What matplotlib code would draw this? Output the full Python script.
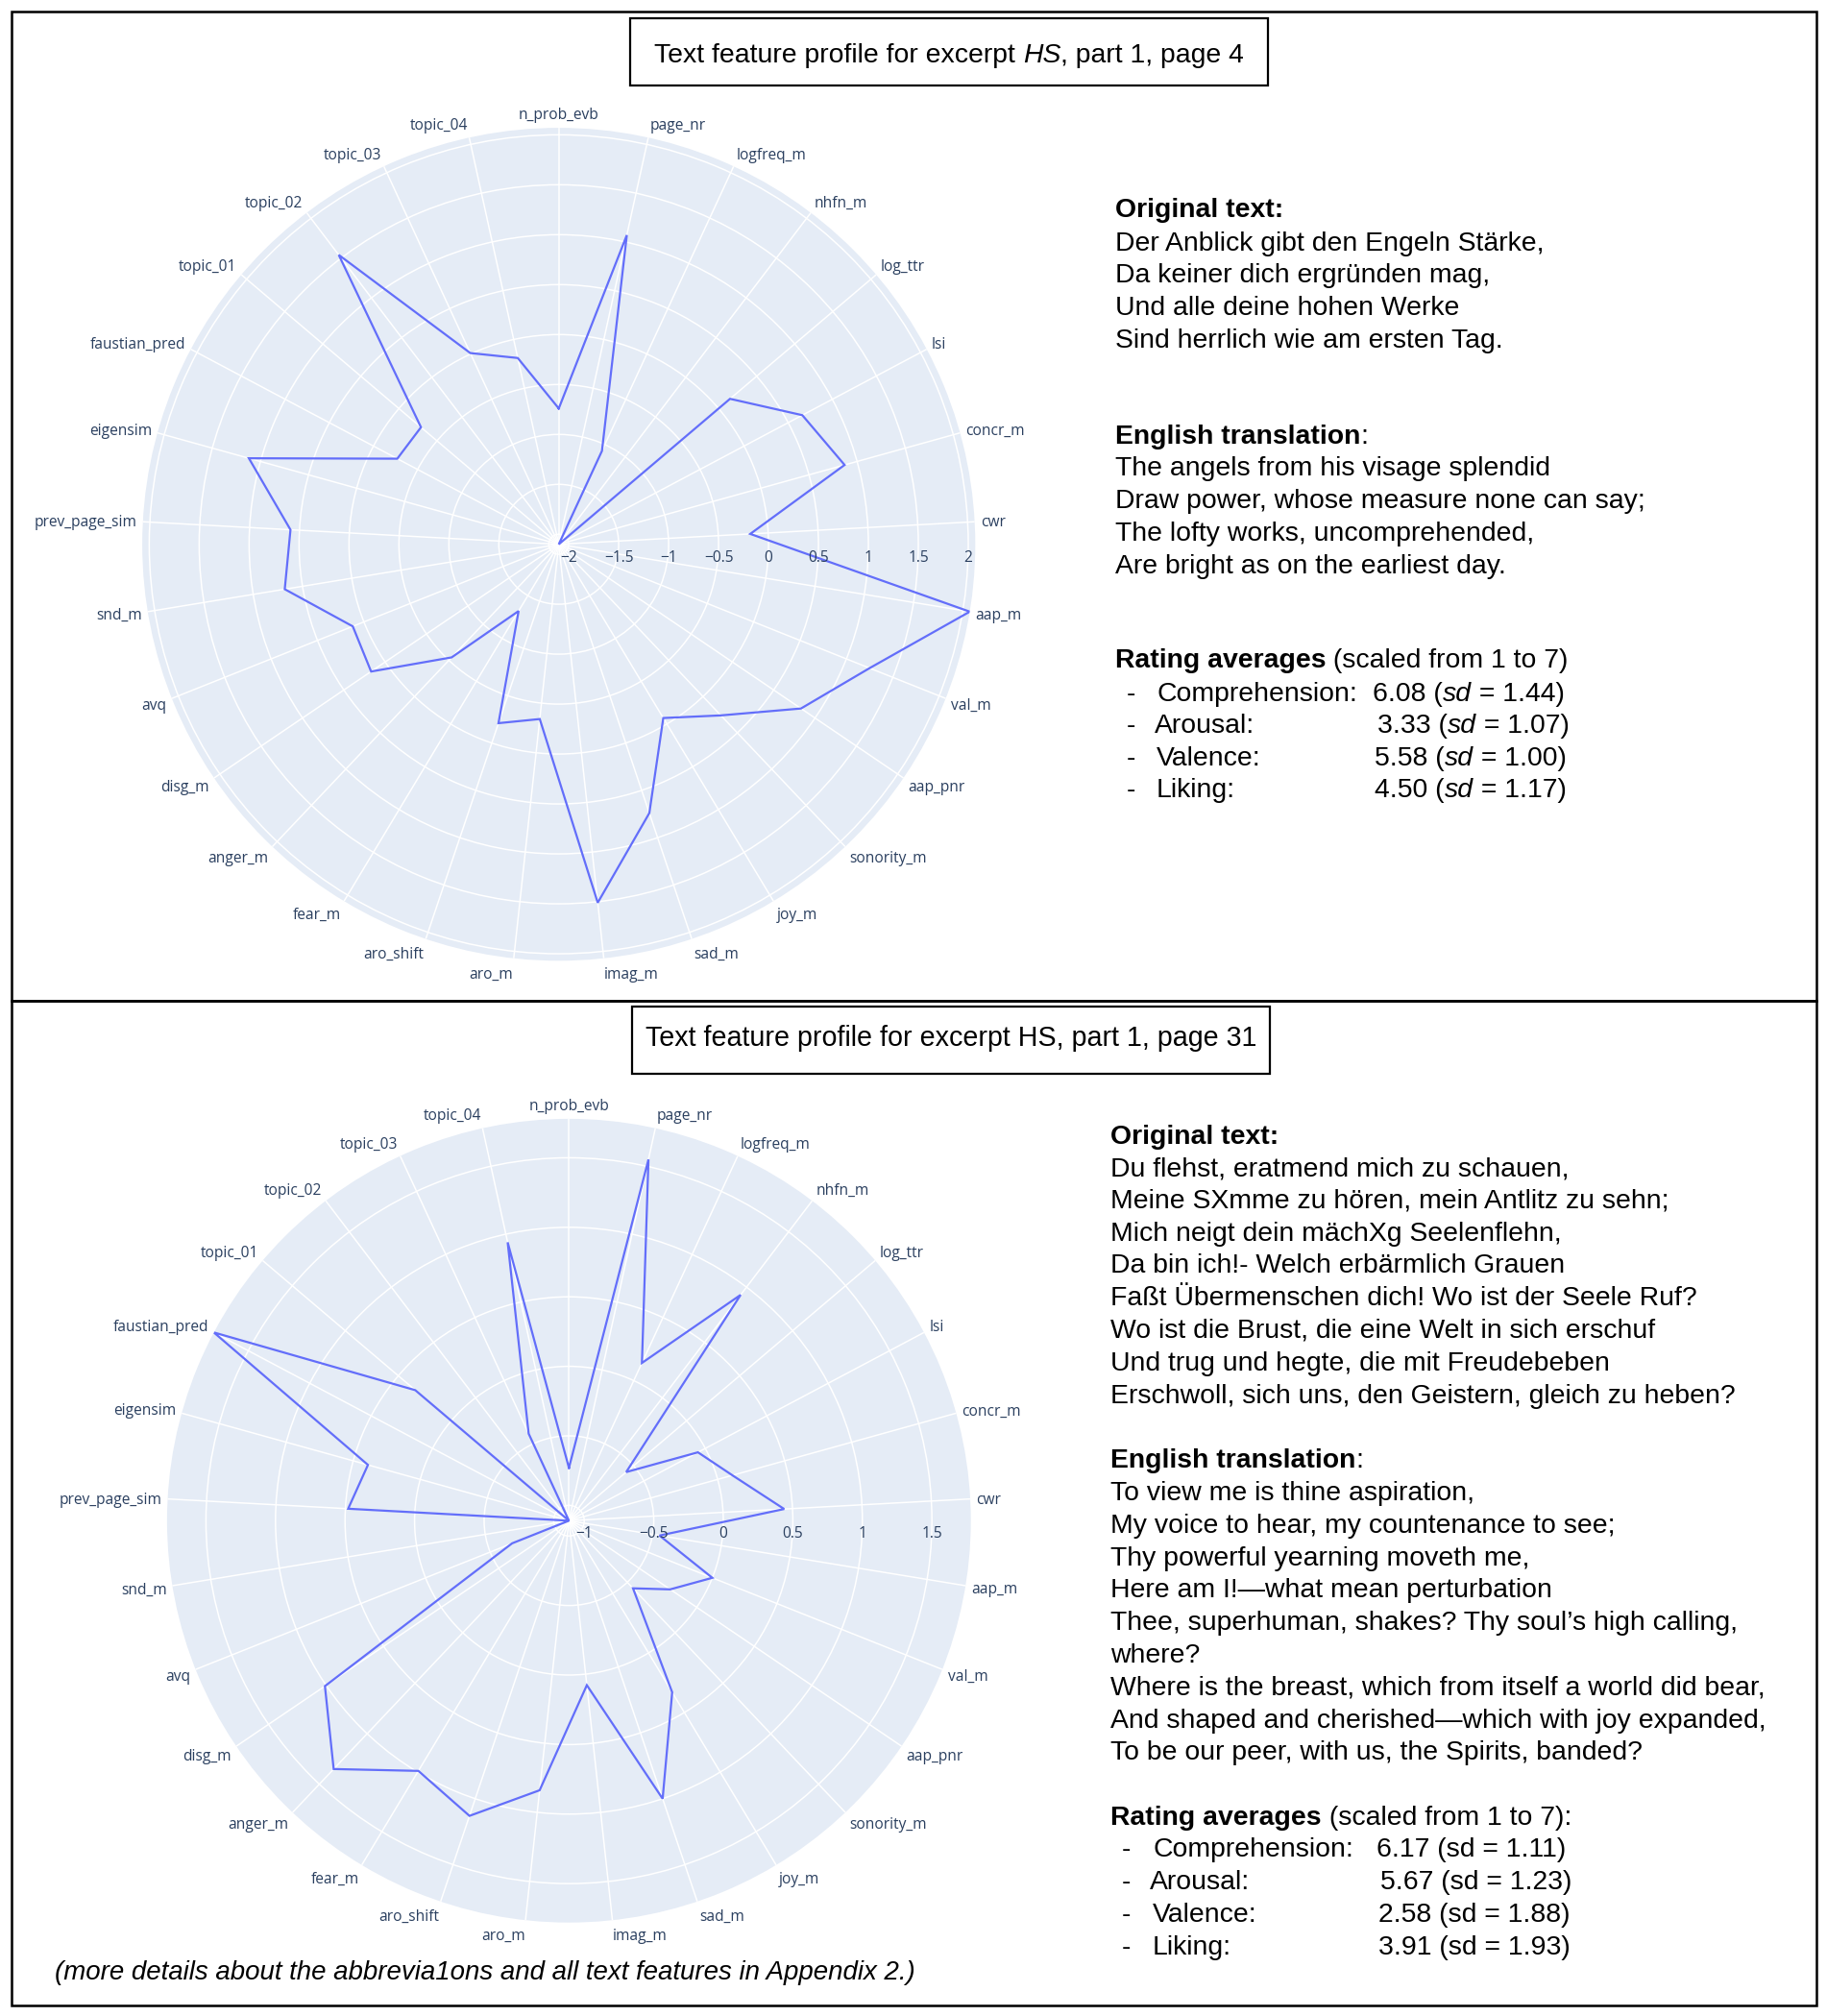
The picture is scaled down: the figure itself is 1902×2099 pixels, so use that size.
import numpy as np
import matplotlib
matplotlib.use("Agg")
import matplotlib.pyplot as plt
from matplotlib.patches import Rectangle

# ---------------- data ----------------
features = ["n_prob_evb", "page_nr", "logfreq_m", "nhfn_m", "log_ttr", "lsi", "concr_m",
            "cwr", "aap_m", "val_m", "aap_pnr", "sonority_m", "joy_m", "sad_m", "imag_m",
            "aro_m", "aro_shift", "fear_m", "anger_m", "disg_m", "avq", "snd_m",
            "prev_page_sim", "eigensim", "faustian_pred", "topic_01", "topic_02",
            "topic_03", "topic_04"]

page4_values = [-0.74, 1.07, -1.07, -2.10, 0.15, 0.66, 0.87, -0.18, 2.07, 1.25, 0.83,
                0.26, -0.07, 0.74, 1.51, -0.34, -0.21, -1.32, -0.54, 0.17, 0.12, 0.68,
                0.59, 1.12, -0.27, -0.29, 1.54, 0.01, -0.19]
page31_values = [-0.73, 1.55, 0.14, 0.93, -0.57, -0.06, 0.11, 0.44, -0.45, 0.00, -0.23,
                 -0.44, 0.33, 1.00, 0.08, 0.84, 1.13, 0.99, 1.35, 1.01, -0.67, -1.11,
                 0.48, 0.39, 1.78, 0.34, -1.11, -0.42, 0.94]
page4_ticks = [-2, -1.5, -1, -0.5, 0, 0.5, 1, 1.5, 2]
page31_ticks = [-1, -0.5, 0, 0.5, 1, 1.5]

rating_names = ["Comprehension:", "Arousal:", "Valence:", "Liking:"]
page4_means = ["6.08", "3.33", "5.58", "4.50"]
page4_sds = ["1.44", "1.07", "1.00", "1.17"]
page31_means = ["6.17", "5.67", "2.58", "3.91"]
page31_sds = ["1.11", "1.23", "1.88", "1.93"]

page4_original = ["Der Anblick gibt den Engeln Stärke,",
                  "Da keiner dich ergründen mag,",
                  "Und alle deine hohen Werke",
                  "Sind herrlich wie am ersten Tag."]
page4_english = ["The angels from his visage splendid",
                 "Draw power, whose measure none can say;",
                 "The lofty works, uncomprehended,",
                 "Are bright as on the earliest day."]
page31_original = ["Du flehst, eratmend mich zu schauen,",
                   "Meine SXmme zu hören, mein Antlitz zu sehn;",
                   "Mich neigt dein mächXg Seelenflehn,",
                   "Da bin ich!- Welch erbärmlich Grauen",
                   "Faßt Übermenschen dich! Wo ist der Seele Ruf?",
                   "Wo ist die Brust, die eine Welt in sich erschuf",
                   "Und trug und hegte, die mit Freudebeben",
                   "Erschwoll, sich uns, den Geistern, gleich zu heben?"]
page31_english = ["To view me is thine aspiration,",
                  "My voice to hear, my countenance to see;",
                  "Thy powerful yearning moveth me,",
                  "Here am I!\u2014what mean perturbation",
                  "Thee, superhuman, shakes? Thy soul\u2019s high calling,",
                  "where?",
                  "Where is the breast, which from itself a world did bear,",
                  "And shaped and cherished\u2014which with joy expanded,",
                  "To be our peer, with us, the Spirits, banded?"]

# ---------------- figure ----------------
W, H = 1902, 2099
fig = plt.figure(figsize=(W / 100, H / 100), dpi=100)
renderer = fig.canvas.get_renderer()

BODY = ["Liberation Sans", "DejaVu Sans"]
PLOTLY = ["Open Sans", "DejaVu Sans"]
LABEL_COLOR = "#2a3f5f"


def fx(x):
    return x / W


def fy(y):
    return 1 - y / H


def text_width(s, **kw):
    t = fig.text(0, 0, s + "|", **kw)
    w1 = t.get_window_extent(renderer).width
    t.remove()
    t = fig.text(0, 0, "|", **kw)
    w2 = t.get_window_extent(renderer).width
    t.remove()
    return w1 - w2


def runs(x, y, parts, size=20.4, center=False):
    kws = []
    for p in parts:
        weight = p[1] if len(p) > 1 else "normal"
        style = p[2] if len(p) > 2 else "normal"
        kws.append(dict(fontsize=size, family=BODY, fontweight=weight, fontstyle=style,
                        color="black"))
    widths = [text_width(p[0], **kw) for p, kw in zip(parts, kws)]
    if center:
        x -= sum(widths) / 2
    for p, kw, wd in zip(parts, kws, widths):
        fig.text(fx(x), fy(y), p[0], ha="left", va="baseline", **kw)
        x += wd


def radar(cx, cy, R, values, ticks):
    ax = fig.add_axes([fx(cx - R), fy(cy + R), 2 * R / W, 2 * R / H], projection="polar")
    ax.set_theta_offset(np.pi / 2)
    ax.set_theta_direction(-1)
    n = len(features)
    theta = np.arange(n) * 2 * np.pi / n
    rmin, rmax = min(values), max(values)
    ax.set_facecolor("#E5ECF6")
    ax.spines["polar"].set_visible(False)
    ax.set_xticks(theta)
    ax.set_xticklabels([])
    ax.set_yticks(ticks)
    ax.set_yticklabels([])
    ax.tick_params(length=0)
    ax.grid(True, color="white", lw=1.1)
    ax.set_axisbelow(True)
    ax.plot(np.append(theta, theta[0]), np.append(values, values[0]),
            color="#636efa", lw=1.6, solid_joinstyle="miter", zorder=3)
    ax.set_ylim(rmin, rmax)
    for k, name in enumerate(features):
        ang = np.deg2rad(90 - 360.0 * k / n)
        c, s = np.cos(ang), np.sin(ang)
        ha = "left" if c > 0.01 else ("right" if c < -0.01 else "center")
        ax.annotate(name, xy=(theta[k], rmax), xycoords="data",
                    xytext=(6 * c, 15 * s - 2), textcoords="offset pixels",
                    ha=ha, va="center", fontsize=11.2, family=PLOTLY,
                    color=LABEL_COLOR, annotation_clip=False)
    for v in ticks:
        lab = ("%g" % v).replace("-", "\u2212")
        ax.annotate(lab, xy=(np.pi / 2, v), xycoords="data", xytext=(0, -14),
                    textcoords="offset pixels", ha="center", va="center",
                    fontsize=11.2, family=PLOTLY, color=LABEL_COLOR,
                    annotation_clip=False)
    return ax


# panel frames
for (x0, y0, x1, y1) in [(12, 12, 1891, 1042), (12, 1042, 1891, 2088)]:
    fig.patches.append(Rectangle((fx(x0), fy(y1)), (x1 - x0) / W, (y1 - y0) / H,
                                 transform=fig.transFigure, fill=False,
                                 edgecolor="black", lw=1.8))
# title boxes
for (x0, y0, x1, y1) in [(656, 19, 1320, 89), (658, 1048, 1322, 1118)]:
    fig.patches.append(Rectangle((fx(x0), fy(y1)), (x1 - x0) / W, (y1 - y0) / H,
                                 transform=fig.transFigure, fill=False,
                                 edgecolor="black", lw=1.6))

runs(988, 65, [("Text feature profile for excerpt ",), ("HS", "normal", "italic"),
               (", part 1, page 4",)], center=True)
runs(990, 1089, [("Text feature profile for excerpt HS, part 1, page 31",)], size=20.6,
     center=True)

# radar charts
radar(581.7, 566.7, 433.6, page4_values, page4_ticks)
radar(592.3, 1583.3, 418.4, page31_values, page31_ticks)

# ---------- top text block ----------
x = 1161
runs(x, 226, [("Original text:", "bold")])
for i, line in enumerate(page4_original):
    runs(x, 261 + 33.5 * i, [(line,)])
runs(x, 462, [("English translation", "bold"), (":",)])
for i, line in enumerate(page4_english):
    runs(x, 495 + 34 * i, [(line,)])
runs(x, 695, [("Rating averages", "bold"), (" (scaled from 1 to 7)",)])
top_val_x = [1429, 1434, 1431, 1431]
top_lab_x = [1204, 1202, 1204, 1204]
for i in range(4):
    yb = 730 + 33.4 * i
    runs(1173, yb, [("-",)])
    runs(top_lab_x[i], yb, [(rating_names[i],)])
    runs(top_val_x[i], yb, [(page4_means[i] + " (",), ("sd", "normal", "italic"),
                            (" = " + page4_sds[i] + ")",)])

# ---------- bottom text block ----------
x = 1156
runs(x, 1191, [("Original text:", "bold")])
for i, line in enumerate(page31_original):
    runs(x, 1224 + 33.8 * i, [(line,)])
runs(x, 1528, [("English translation", "bold"), (":",)])
for i, line in enumerate(page31_english):
    runs(x, 1562 + 33.8 * i, [(line,)])
runs(x, 1900, [("Rating averages", "bold"), (" (scaled from 1 to 7):",)])
bot_val_x = [1433, 1437, 1435, 1435]
bot_lab_x = [1200, 1197, 1200, 1200]
for i in range(4):
    yb = 1933 + 33.9 * i
    runs(1168, yb, [("-",)])
    runs(bot_lab_x[i], yb, [(rating_names[i],)])
    runs(bot_val_x[i], yb, [(page31_means[i] + " (sd = " + page31_sds[i] + ")",)])

runs(57, 2061, [("(more details about the abbrevia1ons and all text features in Appendix 2.)",
                 "normal", "italic")], size=19.9)

fig.savefig("out.png", dpi=100)
